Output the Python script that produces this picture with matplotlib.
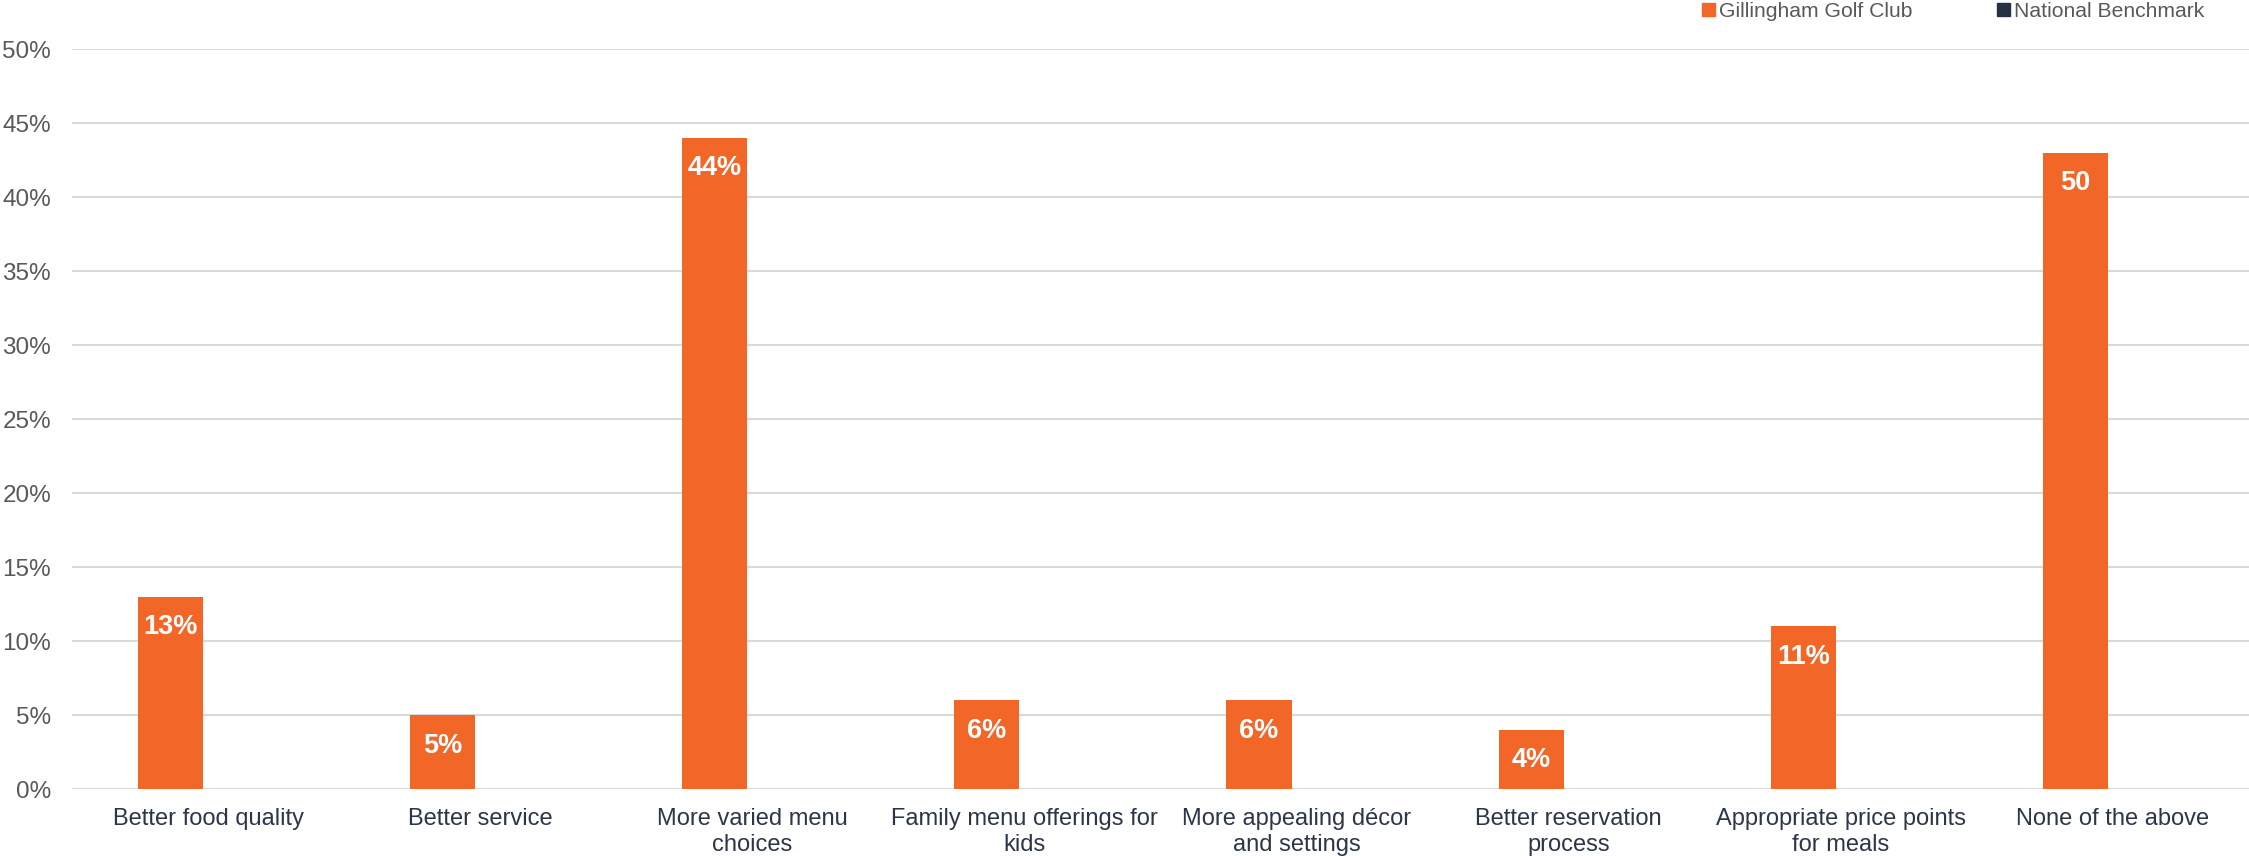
import numpy as np
import matplotlib.pyplot as plt
from matplotlib.patches import Patch

categories = ["Better food quality", "Better service", "More varied menu\nchoices",
              "Family menu offerings for\nkids", "More appealing décor\nand settings",
              "Better reservation\nprocess", "Appropriate price points\nfor meals",
              "None of the above"]
club_values = [13, 5, 44, 6, 6, 4, 11, 43]
club_labels = ["13%", "5%", "44%", "6%", "6%", "4%", "11%", "50"]
benchmark_values = [0, 0, 0, 0, 0, 0, 0, 0]
yticks = [0, 5, 10, 15, 20, 25, 30, 35, 40, 45, 50]

orange = "#F26628"
navy = "#263143"
grey = "#595959"

plt.rcParams['font.family'] = ['Liberation Sans', 'DejaVu Sans']

fig = plt.figure(figsize=(22.49, 8.56), dpi=100)
ax = fig.add_axes([72 / 2249, 1 - 789 / 856, 1 - 72 / 2249, (789 - 49) / 856])

x = np.arange(len(categories))
w = 0.239
off = 0.138
bars = ax.bar(x - off, club_values, w, color=orange, linewidth=0)
ax.bar(x + off, benchmark_values, w, color=navy, linewidth=0)

for b, lab in zip(bars, club_labels):
    ax.annotate(lab, (b.get_x() + b.get_width() / 2, b.get_height()),
                xytext=(0, -22), textcoords="offset points", ha="center", va="center",
                color="white", fontsize=19.5, fontweight="bold")

ax.set_xlim(-0.5, len(categories) - 0.5)
ax.set_ylim(0, 50)
ax.set_yticks(yticks)
ax.set_yticklabels([f"{v}%" for v in yticks])
ax.set_xticks(x)
ax.set_xticklabels(categories, linespacing=1.2)
ax.tick_params(axis="y", length=0, pad=15, labelsize=17.5, labelcolor=grey)
ax.tick_params(axis="x", length=0, pad=14, labelsize=17, labelcolor="#2b3648")
ax.grid(axis="y", color="#d9d9d9", linewidth=1.5)
ax.set_axisbelow(True)
for s in ax.spines.values():
    s.set_visible(False)

handles = [Patch(color=orange, label="Gillingham Golf Club"),
           Patch(color=navy, label="National Benchmark")]
fig.legend(handles=handles, loc="upper left", bbox_to_anchor=(1683 / 2249, 1.02), ncol=2,
           frameon=False, fontsize=15.2, labelcolor=grey, handlelength=0.6, handleheight=0.6,
           handletextpad=0.2, columnspacing=4.0)

fig.savefig("out.png", dpi=100)
